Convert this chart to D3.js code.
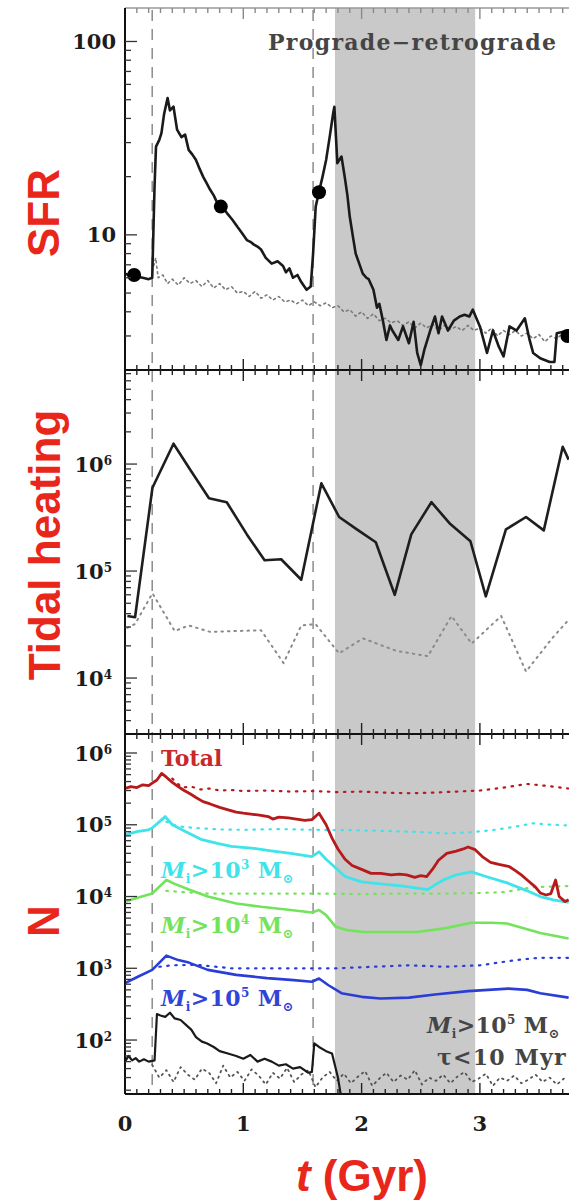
<!DOCTYPE html>
<html>
<head>
<meta charset="utf-8">
<script src="https://cdn.jsdelivr.net/npm/d3@7"></script>
<style>
  html, body { margin: 0; padding: 0; background: #fff; overflow: hidden; }
  svg { display: block; }
</style>
</head>
<body>
<svg id="chart" width="569" height="1202"></svg>
<script>
// ---------------- data ----------------
const xTickValues = [0, 1, 2, 3];
const mergerTimes = [0.23, 1.59];          // pericentre passages (dashed lines)
const shadedInterval = [1.775, 2.96];      // shaded epoch

// SFR, merger run [t (Gyr), SFR]
const sfrMerger = [
  [0.00,6.3],[0.03,6.2],[0.09,6.1],[0.15,6.0],[0.20,5.9],[0.23,6.0],[0.25,18],[0.262,28.6],
  [0.29,31],[0.308,33.6],[0.33,42],[0.36,51],[0.38,44],[0.41,46],[0.44,35],[0.477,32],
  [0.508,33],[0.538,27.5],[0.57,26],[0.60,24.4],[0.63,22],[0.66,20],[0.69,18.5],[0.72,17.1],
  [0.75,16],[0.78,14.6],[0.82,14.0],[0.86,13],[0.906,12.0],[0.95,11],[0.99,10.2],[1.03,9.4],
  [1.06,9.2],[1.09,8.9],[1.12,8.7],[1.15,8.4],[1.19,7.6],[1.24,7.1],[1.29,7.3],[1.336,6.9],
  [1.36,6.4],[1.39,6.7],[1.42,6.0],[1.458,6.2],[1.49,5.7],[1.535,5.2],[1.57,5.4],[1.59,8],
  [1.612,14],[1.64,16.7],[1.67,20],[1.70,24.4],[1.73,32],[1.76,42.7],[1.77,46],[1.795,23.5],
  [1.83,25.4],[1.857,20],[1.88,16],[1.90,12.4],[1.93,9.5],[1.95,8.0],[1.98,7.1],[2.01,6.3],
  [2.04,6.0],[2.06,5.9],[2.10,5.2],[2.13,4.2],[2.15,4.4],[2.18,3.6],[2.21,2.86],[2.24,3.4],
  [2.26,3.2],[2.31,2.86],[2.35,3.36],[2.40,2.75],[2.44,3.55],[2.47,2.45],[2.50,2.12],[2.53,2.54],
  [2.58,3.2],[2.62,3.78],[2.65,3.1],[2.68,3.78],[2.73,3.2],[2.78,3.6],[2.83,3.78],[2.87,3.86],
  [2.91,3.78],[2.94,4.1],[3.00,3.36],[3.06,2.45],[3.11,3.2],[3.16,2.64],[3.20,2.35],[3.25,3.36],
  [3.31,3.2],[3.38,3.7],[3.42,2.86],[3.45,2.45],[3.51,2.3],[3.59,2.2],[3.63,2.2],[3.65,3.1],
  [3.75,3.2]
];
// SFR, isolated reference run
const sfrIsolated = [
  [0.23,6.5],[0.26,7.6],[0.28,6.0],[0.32,6.2],[0.36,5.6],[0.40,5.9],[0.45,5.5],[0.50,6.0],
  [0.55,5.6],[0.60,5.8],[0.65,5.4],[0.70,5.8],[0.75,5.3],[0.80,5.6],[0.85,5.2],[0.90,5.4],
  [0.95,5.0],[1.00,5.1],[1.05,4.8],[1.10,5.1],[1.15,4.7],[1.20,4.9],[1.25,4.6],[1.30,4.8],
  [1.35,4.5],[1.40,4.6],[1.45,4.4],[1.50,4.6],[1.55,4.3],[1.60,4.5],[1.65,4.3],[1.70,4.45],
  [1.75,4.2],[1.80,4.3],[1.85,4.0],[1.90,4.1],[1.95,3.8],[2.00,4.0],[2.05,3.7],[2.10,3.9],
  [2.15,3.6],[2.20,3.7],[2.25,3.5],[2.30,3.6],[2.35,3.4],[2.40,3.55],[2.45,3.3],[2.50,3.5],
  [2.55,3.3],[2.60,3.45],[2.65,3.2],[2.70,3.4],[2.75,3.25],[2.80,3.35],[2.85,3.2],[2.90,3.4],
  [2.95,3.2],[3.00,3.3],[3.05,3.1],[3.10,3.3],[3.15,3.0],[3.20,3.2],[3.25,3.05],[3.30,3.2],
  [3.35,3.0],[3.40,3.1],[3.45,2.9],[3.50,3.05],[3.55,2.8],[3.60,3.0],[3.65,2.9],[3.70,3.1],
  [3.75,3.0]
];
// snapshot markers on the SFR curve
const sfrSnapshots = [[0.077,6.2],[0.81,14.0],[1.64,16.6],[3.74,3.0]];
const sfrTickValues = [10, 100];

// tidal heating, merger and isolated runs
const tidalMerger = [
  [0.02,3.8e4],[0.085,3.7e4],[0.232,6.0e5],[0.41,1.55e6],[0.55,8.9e5],[0.71,4.8e5],
  [0.86,4.4e5],[1.03,2.2e5],[1.18,1.26e5],[1.32,1.29e5],[1.49,8.3e4],[1.66,6.6e5],
  [1.81,3.2e5],[1.96,2.45e5],[2.12,1.86e5],[2.28,6.0e4],[2.42,2.2e5],[2.59,4.4e5],
  [2.75,2.75e5],[2.92,1.9e5],[3.05,5.8e4],[3.22,2.45e5],[3.39,3.2e5],[3.54,2.4e5],
  [3.70,1.45e6],[3.75,1.1e6]
];
const tidalIsolated = [
  [0.02,2.95e4],[0.085,3.2e4],[0.232,6.2e4],[0.42,2.75e4],[0.54,3.1e4],[0.72,2.7e4],
  [1.15,2.8e4],[1.34,1.38e4],[1.49,3.1e4],[1.61,3.2e4],[1.81,1.7e4],[2.01,2.35e4],
  [2.29,1.8e4],[2.56,1.6e4],[2.76,3.8e4],[2.93,2.1e4],[3.18,3.8e4],[3.39,1.15e4],
  [3.61,2.35e4],[3.75,3.5e4]
];
const tidalTickValues = [1e4, 1e5, 1e6];

// number of clusters
const nTotal = [
  [0.00,3.2e5],[0.05,3.4e5],[0.10,3.3e5],[0.15,3.6e5],[0.20,3.5e5],[0.23,3.8e5],[0.27,4.2e5],
  [0.31,5.2e5],[0.35,4.6e5],[0.40,3.9e5],[0.45,3.4e5],[0.50,3.0e5],[0.55,2.7e5],[0.60,2.4e5],
  [0.66,2.1e5],[0.72,1.95e5],[0.80,1.75e5],[0.88,1.6e5],[0.94,1.5e5],[1.00,1.45e5],[1.08,1.4e5],
  [1.15,1.35e5],[1.21,1.3e5],[1.25,1.2e5],[1.30,1.28e5],[1.38,1.25e5],[1.45,1.2e5],[1.52,1.15e5],
  [1.58,1.18e5],[1.64,1.45e5],[1.70,1.0e5],[1.75,6.5e4],[1.80,4.6e4],[1.86,3.3e4],[1.92,2.7e4],
  [2.01,2.35e4],[2.08,2.1e4],[2.16,2.1e4],[2.25,2.0e4],[2.32,2.05e4],[2.38,2.0e4],[2.45,1.85e4],
  [2.50,1.95e4],[2.55,1.9e4],[2.60,2.4e4],[2.65,3.2e4],[2.72,4.0e4],[2.80,4.3e4],[2.86,4.6e4],
  [2.90,4.9e4],[2.96,4.5e4],[3.02,3.6e4],[3.09,3.0e4],[3.16,2.8e4],[3.25,2.6e4],[3.30,2.3e4],
  [3.35,2.0e4],[3.40,1.7e4],[3.47,1.35e4],[3.51,1.12e4],[3.56,1.05e4],[3.60,1.1e4],[3.64,1.7e4],
  [3.67,1.0e4],[3.72,8.5e3],[3.75,9.0e3]
];
const nTotalIso = [
  [0.40,4.4e5],[0.48,3.3e5],[0.56,3.4e5],[0.64,3.1e5],[0.72,3.2e5],[0.80,3.0e5],[0.90,3.05e5],
  [1.00,2.95e5],[1.20,3.0e5],[1.40,2.9e5],[1.60,2.95e5],[1.80,2.85e5],[2.00,2.9e5],[2.20,2.8e5],
  [2.40,2.75e5],[2.60,2.8e5],[2.80,2.9e5],[3.00,3.0e5],[3.20,3.3e5],[3.40,3.7e5],[3.55,3.5e5],
  [3.75,3.2e5]
];
const nAbove3 = [
  [0.00,7.2e4],[0.10,8.0e4],[0.20,8.5e4],[0.23,9.0e4],[0.34,1.3e5],[0.40,1.0e5],[0.54,7.6e4],
  [0.65,6.2e4],[0.78,5.5e4],[0.90,5.0e4],[1.09,4.7e4],[1.25,4.3e4],[1.40,4.0e4],[1.58,3.6e4],
  [1.64,4.2e4],[1.70,3.3e4],[1.77,2.6e4],[1.86,1.9e4],[2.00,1.6e4],[2.16,1.5e4],[2.35,1.4e4],
  [2.56,1.25e4],[2.62,1.45e4],[2.69,1.7e4],[2.80,2.0e4],[2.93,2.2e4],[3.05,1.9e4],[3.23,1.55e4],
  [3.40,1.2e4],[3.51,1.0e4],[3.62,9.0e3],[3.75,8.3e3]
];
const nAbove3Iso = [
  [0.35,1.1e5],[0.45,9.5e4],[0.60,9.0e4],[0.80,8.6e4],[1.00,8.5e4],[1.30,8.7e4],[1.60,8.5e4],
  [1.90,8.4e4],[2.20,8.2e4],[2.50,7.9e4],[2.70,7.6e4],[2.90,7.8e4],[3.10,8.4e4],[3.30,9.4e4],
  [3.45,1.05e5],[3.60,1.0e5],[3.75,9.8e4]
];
const nAbove4 = [
  [0.00,8.5e3],[0.10,9.5e3],[0.23,1.1e4],[0.35,1.7e4],[0.42,1.5e4],[0.54,1.25e4],[0.70,1.0e4],
  [0.94,8.0e3],[1.15,7.2e3],[1.40,6.5e3],[1.58,6.0e3],[1.64,6.5e3],[1.70,5.5e3],[1.78,3.8e3],
  [1.88,3.4e3],[2.01,3.2e3],[2.20,3.2e3],[2.47,3.2e3],[2.70,3.6e3],[2.93,4.3e3],[3.10,4.3e3],
  [3.23,4.2e3],[3.40,3.5e3],[3.51,3.1e3],[3.75,2.6e3]
];
const nAbove4Iso = [
  [0.35,1.2e4],[0.50,1.15e4],[0.70,1.1e4],[1.00,1.1e4],[1.30,1.1e4],[1.60,1.1e4],[2.00,1.08e4],
  [2.40,1.1e4],[2.70,1.1e4],[3.00,1.12e4],[3.20,1.15e4],[3.45,1.35e4],[3.75,1.4e4]
];
const nAbove5 = [
  [0.00,6.2e2],[0.10,7.5e2],[0.23,9.5e2],[0.35,1.5e3],[0.45,1.3e3],[0.54,1.2e3],[0.70,9.5e2],
  [0.94,8.1e2],[1.20,7.3e2],[1.40,6.9e2],[1.58,6.5e2],[1.64,7.2e2],[1.72,5.8e2],[1.83,4.5e2],
  [2.00,4.0e2],[2.16,3.8e2],[2.40,3.9e2],[2.62,4.3e2],[2.90,4.8e2],[3.24,5.2e2],[3.40,5.0e2],
  [3.51,4.5e2],[3.75,3.9e2]
];
const nAbove5Iso = [
  [0.29,1.05e3],[0.40,1.1e3],[0.60,1.12e3],[0.90,1.0e3],[1.20,1.0e3],[1.50,1.0e3],[1.80,1.0e3],
  [2.10,1.05e3],[2.40,1.1e3],[2.70,1.05e3],[3.00,1.1e3],[3.30,1.3e3],[3.50,1.4e3],[3.75,1.4e3]
];
const nYoung = [
  [0.00,50],[0.03,60],[0.06,52],[0.09,56],[0.12,50],[0.16,54],[0.20,50],[0.25,52],[0.27,230],
  [0.30,220],[0.34,210],[0.38,240],[0.42,200],[0.47,190],[0.52,160],[0.56,140],[0.60,110],
  [0.65,95],[0.69,90],[0.75,80],[0.80,70],[0.87,65],[0.94,60],[1.00,55],[1.06,62],[1.12,50],
  [1.18,55],[1.24,50],[1.30,44],[1.36,46],[1.42,40],[1.48,42],[1.55,35],[1.58,36],[1.60,90],
  [1.64,80],[1.70,70],[1.75,65],[1.80,30],[1.84,12]
];
const nYoungIso = [
  [0.23,45],[0.29,30],[0.35,38],[0.41,26],[0.47,42],[0.53,33],[0.59,28],[0.65,40],[0.71,35],
  [0.77,25],[0.83,44],[0.89,30],[0.95,36],[1.01,27],[1.07,39],[1.13,32],[1.19,24],[1.25,35],
  [1.31,29],[1.37,41],[1.43,26],[1.49,33],[1.55,38],[1.61,22],[1.67,30],[1.73,36],[1.79,27],
  [1.85,34],[1.91,25],[1.97,31],[2.03,37],[2.09,23],[2.15,29],[2.21,35],[2.27,26],[2.33,32],
  [2.39,28],[2.45,38],[2.51,24],[2.57,30],[2.63,27],[2.69,33],[2.75,25],[2.81,31],[2.87,36],
  [2.93,26],[2.99,29],[3.05,34],[3.11,23],[3.17,30],[3.23,27],[3.29,32],[3.35,25],[3.41,28],
  [3.47,33],[3.53,26],[3.59,30],[3.65,24],[3.71,29]
];
const nTickValues = [1e2, 1e3, 1e4, 1e5, 1e6];

// ---------------- layout ----------------
const svg = d3.select("#chart");
const left = 125, right = 569;
const x = d3.scaleLinear().domain([0, 4]).range([left, left + 4 * 118.3]);

const panels = [
  { key: "sfr",   top: 8,   bottom: 370,  y: d3.scaleLog().domain([2.0, 149]).range([370, 8]) },
  { key: "tidal", top: 370, bottom: 734,  y: d3.scaleLog().domain([3000, 7.57e6]).range([734, 370]) },
  { key: "num",   top: 734, bottom: 1094, y: d3.scaleLog().domain([17.7, 1.84e6]).range([1094, 734]) }
];
const P = Object.fromEntries(panels.map(p => [p.key, p]));

const red = "#e8261a";
const serif = "'DejaVu Serif', serif";
const sans = "'Liberation Sans', Arial, sans-serif";

const defs = svg.append("defs");
panels.forEach(p => {
  defs.append("clipPath").attr("id", "clip-" + p.key)
    .append("rect").attr("x", left).attr("y", p.top)
    .attr("width", right - left).attr("height", p.bottom - p.top);
});

// shaded epoch across all panels
svg.append("rect")
  .attr("x", x(shadedInterval[0])).attr("y", 8)
  .attr("width", x(shadedInterval[1]) - x(shadedInterval[0]))
  .attr("height", 1094 - 8)
  .attr("fill", "#c9c9c9");

// pericentre markers
svg.selectAll("line.peri").data(mergerTimes).join("line")
  .attr("class", "peri")
  .attr("x1", d => x(d)).attr("x2", d => x(d))
  .attr("y1", 10).attr("y2", 1094)
  .attr("stroke", "#8c8c8c").attr("stroke-width", 1.5)
  .attr("stroke-dasharray", "11,8");

function drawLine(panel, data, opts) {
  const p = P[panel];
  const gen = d3.line().x(d => x(d[0])).y(d => p.y(d[1]));
  svg.append("path")
    .attr("clip-path", `url(#clip-${panel})`)
    .attr("d", gen(data))
    .attr("fill", "none")
    .attr("stroke", opts.color)
    .attr("stroke-width", opts.width || 2.4)
    .attr("stroke-dasharray", opts.dash || null)
    .attr("stroke-linejoin", "round")
    .attr("stroke-linecap", opts.dash ? "round" : "butt")
    .attr("opacity", opts.opacity || 1);
}

// ---- SFR panel ----
drawLine("sfr", sfrIsolated, { color: "#7a7a7a", width: 1.6, dash: "2,3.5" });
drawLine("sfr", sfrMerger, { color: "#1a1a1a", width: 2.6 });
svg.append("g").attr("clip-path", "url(#clip-sfr)")
  .selectAll("circle").data(sfrSnapshots).join("circle")
  .attr("cx", d => x(d[0])).attr("cy", d => P.sfr.y(d[1]))
  .attr("r", 7).attr("fill", "#000");

// ---- tidal heating panel ----
drawLine("tidal", tidalIsolated, { color: "#8a8a8a", width: 2, dash: "1.5,5" });
drawLine("tidal", tidalMerger, { color: "#1e1e1e", width: 2.6 });

// ---- cluster numbers panel ----
const cRed = "#b8191b", cCyan = "#3fe3ea", cGreen = "#74e35c", cBlue = "#2a3ed6";
drawLine("num", nYoungIso, { color: "#555", width: 1.8, dash: "1.5,4.5" });
drawLine("num", nTotalIso, { color: cRed, width: 2.2, dash: "1.5,6.5" });
drawLine("num", nAbove3Iso, { color: cCyan, width: 2.2, dash: "1.5,6.5" });
drawLine("num", nAbove4Iso, { color: cGreen, width: 2.2, dash: "1.5,6.5" });
drawLine("num", nAbove5Iso, { color: cBlue, width: 2.2, dash: "1.5,6.5" });
drawLine("num", nYoung, { color: "#1a1a1a", width: 2.2 });
drawLine("num", nAbove5, { color: cBlue, width: 2.6 });
drawLine("num", nAbove4, { color: cGreen, width: 2.6 });
drawLine("num", nAbove3, { color: cCyan, width: 2.8 });
drawLine("num", nTotal, { color: cRed, width: 2.8 });

// ---------------- axes ----------------
const axes = svg.append("g");
const minorX = d3.range(0, 41).map(i => i / 10).filter(v => Math.abs(v - Math.round(v)) > 1e-6);

function xTickMarks(yLine, up, down, color) {
  const g = axes.append("g").attr("stroke", color).attr("stroke-width", 1.4);
  xTickValues.concat([4]).forEach(v => {
    g.append("line").attr("x1", x(v)).attr("x2", x(v))
      .attr("y1", yLine - (up ? 11 : 0)).attr("y2", yLine + (down ? 11 : 0));
  });
  minorX.forEach(v => {
    g.append("line").attr("x1", x(v)).attr("x2", x(v))
      .attr("y1", yLine - (up ? 5 : 0)).attr("y2", yLine + (down ? 5 : 0));
  });
}

// top border (light) and panel separators
axes.append("line").attr("x1", left).attr("x2", right).attr("y1", 8).attr("y2", 8)
  .attr("stroke", "#9a9a9a").attr("stroke-width", 1.6);
xTickMarks(8, false, true, "#8a8a8a");
[370, 734].forEach(yy => {
  axes.append("line").attr("x1", left).attr("x2", right).attr("y1", yy).attr("y2", yy)
    .attr("stroke", "#111").attr("stroke-width", 2.2);
  xTickMarks(yy, true, true, "#222");
});
axes.append("line").attr("x1", left).attr("x2", right).attr("y1", 1094).attr("y2", 1094)
  .attr("stroke", "#111").attr("stroke-width", 2.2);
xTickMarks(1094, true, false, "#222");

// left axis
axes.append("line").attr("x1", left).attr("x2", left).attr("y1", 8).attr("y2", 1094)
  .attr("stroke", "#111").attr("stroke-width", 2);

panels.forEach(p => {
  const [lo, hi] = p.y.domain();
  const g = axes.append("g").attr("stroke", "#333").attr("stroke-width", 1.3);
  for (let d = Math.floor(Math.log10(lo)); d <= Math.ceil(Math.log10(hi)); d++) {
    for (let k = 1; k <= 9; k++) {
      const v = k * Math.pow(10, d);
      if (v < lo || v > hi) continue;
      const yy = p.y(v);
      if (Math.abs(yy - p.top) < 1 || Math.abs(yy - p.bottom) < 1) continue;
      g.append("line").attr("x1", left).attr("x2", left + (k === 1 ? 12 : 6))
        .attr("y1", yy).attr("y2", yy);
    }
  }
});

// y tick labels
function plainLabels(panel, values) {
  axes.selectAll(null).data(values).join("text")
    .attr("x", 116).attr("y", d => P[panel].y(d)).attr("dy", "0.36em")
    .attr("text-anchor", "end")
    .attr("font-family", serif).attr("font-weight", "bold").attr("font-size", 21)
    .attr("fill", "#1c1c1c")
    .text(d => d);
}
function powerLabels(panel, values) {
  const t = axes.selectAll(null).data(values).join("text")
    .attr("x", 112).attr("y", d => P[panel].y(d)).attr("dy", "0.36em")
    .attr("text-anchor", "end")
    .attr("font-family", serif).attr("font-weight", "bold").attr("font-size", 21)
    .attr("fill", "#1c1c1c");
  t.append("tspan").text("10");
  t.append("tspan").attr("dy", "-0.55em").attr("font-size", 12)
    .text(d => Math.round(Math.log10(d)));
}
plainLabels("sfr", sfrTickValues);
powerLabels("tidal", tidalTickValues);
powerLabels("num", nTickValues);

// x tick labels
axes.selectAll(null).data(xTickValues).join("text")
  .attr("x", d => x(d)).attr("y", 1123).attr("dy", "0.36em")
  .attr("text-anchor", "middle")
  .attr("font-family", serif).attr("font-weight", "bold").attr("font-size", 21)
  .attr("fill", "#1c1c1c")
  .text(d => d);

// ---------------- titles ----------------
function yTitle(text, cx, cy) {
  svg.append("text")
    .attr("transform", `translate(${cx},${cy}) rotate(-90)`)
    .attr("text-anchor", "middle")
    .attr("font-family", sans).attr("font-weight", "bold").attr("font-size", 44)
    .attr("fill", red)
    .text(text);
}
yTitle("SFR", 59, 213);
yTitle("Tidal heating", 60, 545);
yTitle("N", 59, 921);

const xt = svg.append("text")
  .attr("x", 362).attr("y", 1191).attr("text-anchor", "middle")
  .attr("font-family", sans).attr("font-weight", "bold").attr("font-size", 44)
  .attr("fill", red);
xt.append("tspan").attr("font-style", "italic").text("t");
xt.append("tspan").text(" (Gyr)");

svg.append("text")
  .attr("x", 268).attr("y", 42).attr("dy", "0.36em")
  .attr("font-family", serif).attr("font-weight", "bold").attr("font-size", 22)
  .attr("letter-spacing", 1.3)
  .attr("fill", "#454545")
  .text("Prograde\u2212retrograde");

// curve labels in the cluster panel
function massLabel(xp, yp, power, color) {
  const t = svg.append("text").attr("x", xp).attr("y", yp)
    .attr("font-family", serif).attr("font-size", 22).attr("font-weight", "bold")
    .attr("letter-spacing", 0.4)
    .attr("fill", color);
  t.append("tspan").attr("font-style", "italic").text("M");
  t.append("tspan").attr("font-size", 12).attr("dy", 5).text("i");
  t.append("tspan").attr("dy", -5).text(">10");
  t.append("tspan").attr("font-size", 12).attr("dy", -9).text(power);
  t.append("tspan").attr("dy", 9).text(" M");
  t.append("tspan").attr("font-size", 13).attr("dy", 5).text("\u2299");
  return t;
}
svg.append("text").attr("x", 161).attr("y", 766)
  .attr("font-family", serif).attr("font-size", 22).attr("font-weight", "bold")
  .attr("fill", "#c8282a").text("Total");
massLabel(161, 878, "3", "#3fe3ea");
massLabel(161, 933, "4", "#74e35c");
massLabel(161, 1006, "5", "#3045d8");
massLabel(427, 1033, "5", "#454545");
svg.append("text").attr("x", 437).attr("y", 1065)
  .attr("font-family", serif).attr("font-size", 22).attr("font-weight", "bold")
  .attr("letter-spacing", 1.2)
  .attr("fill", "#454545").text("\u03c4<10 Myr");
</script>
</body>
</html>
